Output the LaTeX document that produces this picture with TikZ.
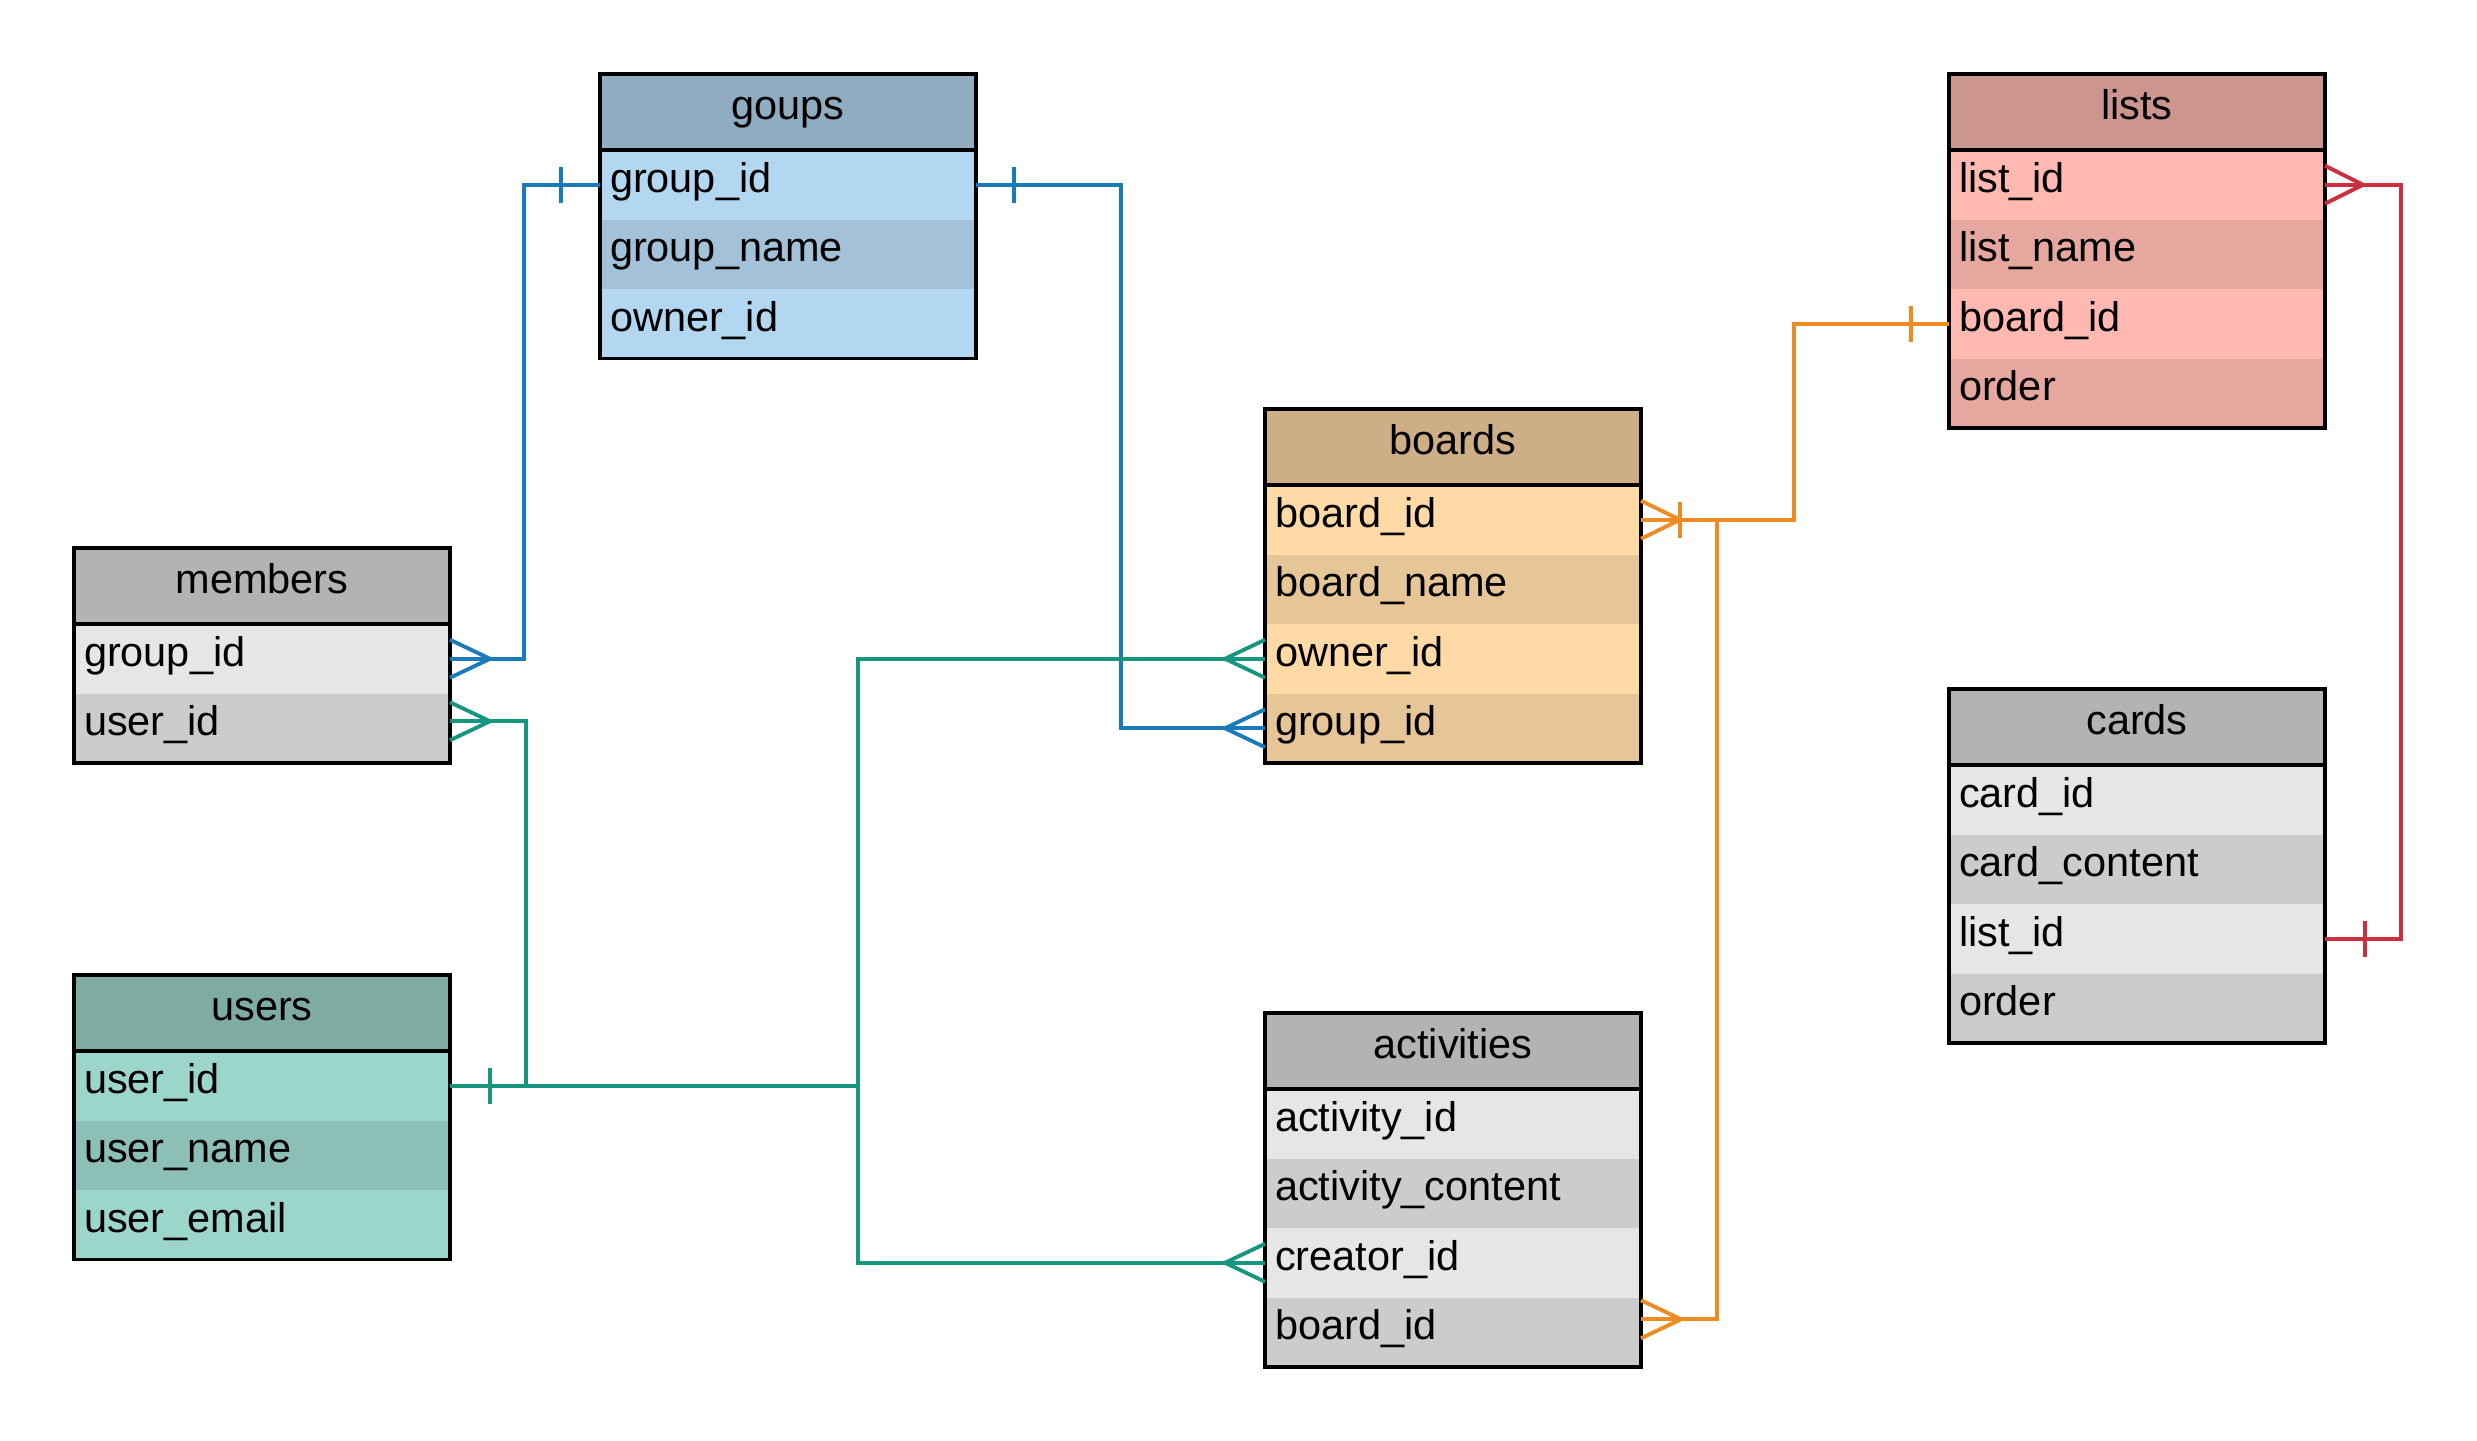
\documentclass[tikz,border=0pt]{standalone}
\usepackage{fontspec}
\setmainfont{Liberation Sans}
\usetikzlibrary{positioning}
\definecolor{greyhead}{HTML}{B3B3B3}
\definecolor{greylight}{HTML}{E6E6E6}
\definecolor{greydark}{HTML}{CCCCCC}
\definecolor{grouphead}{HTML}{8FACC0}
\definecolor{grouplight}{HTML}{B3D7F0}
\definecolor{groupdark}{HTML}{A3C2D9}
\definecolor{userhead}{HTML}{7EABA2}
\definecolor{userlight}{HTML}{9CD6CB}
\definecolor{userdark}{HTML}{8CBFB5}
\definecolor{boardhead}{HTML}{CDAE87}
\definecolor{boardlight}{HTML}{FFDAA7}
\definecolor{boarddark}{HTML}{E6C597}
\definecolor{listhead}{HTML}{CC958E}
\definecolor{listlight}{HTML}{FFB9B1}
\definecolor{listdark}{HTML}{E6A89E}
\definecolor{linkblue}{HTML}{1A7BBB}
\definecolor{linkteal}{HTML}{16967F}
\definecolor{linkorange}{HTML}{EE8B22}
\definecolor{linkred}{HTML}{CC2F3F}
\tikzset{%
    tabhead/.style={inner sep=0pt,outer sep=0pt,shape=rectangle,anchor=north west,minimum width=3.76cm,minimum height=0.76cm,text height=0.29cm,text depth=0.14cm,font=\fontsize{11.8}{14}\selectfont},
    tabrow/.style={inner xsep=0.1cm,inner ysep=0pt,outer sep=0pt,shape=rectangle,minimum width=3.76cm,minimum height=0.695cm,text width=3.56cm,align=left,text height=0.29cm,text depth=0.14cm,font=\fontsize{11.8}{14}\selectfont},
    tabframe/.style={draw,line width=1.05pt},
    link/.style={line width=1.1pt},
}

\begin{document}
\begin{tikzpicture}
        \useasboundingbox (0,0) rectangle (24.77,-14.40);

        % goups
        \node [tabhead,fill=grouphead] (goups) at (6.00,-0.74) {goups};
        \node [tabrow,fill=grouplight,below=0pt of goups] (goups-gid) {group\_id};
        \node [tabrow,fill=groupdark,below=0pt of goups-gid] (goups-gname) {group\_name};
        \node [tabrow,fill=grouplight,below=0pt of goups-gname] (goups-own) {owner\_id};
        \draw [tabframe] (goups.north west) rectangle (goups-own.south east);
        \draw [tabframe] (goups.south west) -- (goups.south east);

        % members
        \node [tabhead,fill=greyhead] (mem) at (0.74,-5.48) {members};
        \node [tabrow,fill=greylight,below=0pt of mem] (mem-gid) {group\_id};
        \node [tabrow,fill=greydark,below=0pt of mem-gid] (mem-uid) {user\_id};
        \draw [tabframe] (mem.north west) rectangle (mem-uid.south east);
        \draw [tabframe] (mem.south west) -- (mem.south east);

        % users
        \node [tabhead,fill=userhead] (usr) at (0.74,-9.75) {users};
        \node [tabrow,fill=userlight,below=0pt of usr] (usr-uid) {user\_id};
        \node [tabrow,fill=userdark,below=0pt of usr-uid] (usr-uname) {user\_name};
        \node [tabrow,fill=userlight,below=0pt of usr-uname] (usr-mail) {user\_email};
        \draw [tabframe] (usr.north west) rectangle (usr-mail.south east);
        \draw [tabframe] (usr.south west) -- (usr.south east);

        % boards
        \node [tabhead,fill=boardhead] (brd) at (12.65,-4.09) {boards};
        \node [tabrow,fill=boardlight,below=0pt of brd] (brd-bid) {board\_id};
        \node [tabrow,fill=boarddark,below=0pt of brd-bid] (brd-bname) {board\_name};
        \node [tabrow,fill=boardlight,below=0pt of brd-bname] (brd-own) {owner\_id};
        \node [tabrow,fill=boarddark,below=0pt of brd-own] (brd-gid) {group\_id};
        \draw [tabframe] (brd.north west) rectangle (brd-gid.south east);
        \draw [tabframe] (brd.south west) -- (brd.south east);

        % activities
        \node [tabhead,fill=greyhead] (act) at (12.65,-10.13) {activities};
        \node [tabrow,fill=greylight,below=0pt of act] (act-aid) {activity\_id};
        \node [tabrow,fill=greydark,below=0pt of act-aid] (act-cont) {activity\_content};
        \node [tabrow,fill=greylight,below=0pt of act-cont] (act-cre) {creator\_id};
        \node [tabrow,fill=greydark,below=0pt of act-cre] (act-bid) {board\_id};
        \draw [tabframe] (act.north west) rectangle (act-bid.south east);
        \draw [tabframe] (act.south west) -- (act.south east);

        % lists
        \node [tabhead,fill=listhead] (lst) at (19.49,-0.74) {lists};
        \node [tabrow,fill=listlight,below=0pt of lst] (lst-lid) {list\_id};
        \node [tabrow,fill=listdark,below=0pt of lst-lid] (lst-lname) {list\_name};
        \node [tabrow,fill=listlight,below=0pt of lst-lname] (lst-bid) {board\_id};
        \node [tabrow,fill=listdark,below=0pt of lst-bid] (lst-ord) {order};
        \draw [tabframe] (lst.north west) rectangle (lst-ord.south east);
        \draw [tabframe] (lst.south west) -- (lst.south east);

        % cards
        \node [tabhead,fill=greyhead] (crd) at (19.49,-6.89) {cards};
        \node [tabrow,fill=greylight,below=0pt of crd] (crd-cid) {card\_id};
        \node [tabrow,fill=greydark,below=0pt of crd-cid] (crd-cont) {card\_content};
        \node [tabrow,fill=greylight,below=0pt of crd-cont] (crd-lid) {list\_id};
        \node [tabrow,fill=greydark,below=0pt of crd-lid] (crd-ord) {order};
        \draw [tabframe] (crd.north west) rectangle (crd-ord.south east);
        \draw [tabframe] (crd.south west) -- (crd.south east);

        % blue links
        \draw [link,linkblue] (goups-gid.west) -- ++(-0.76,0) |- (mem-gid.east);
        \draw [link,linkblue] ([xshift=-0.39cm,yshift=0.18cm]goups-gid.west) -- ([xshift=-0.39cm,yshift=-0.18cm]goups-gid.west);
        \draw [link,linkblue] ([yshift=0.19cm]mem-gid.east) -- ([xshift=0.4cm]mem-gid.east) -- ([yshift=-0.19cm]mem-gid.east);

        \draw [link,linkblue] (goups-gid.east) -- ++(1.45,0) |- (brd-gid.west);
        \draw [link,linkblue] ([xshift=0.38cm,yshift=0.18cm]goups-gid.east) -- ([xshift=0.38cm,yshift=-0.18cm]goups-gid.east);
        \draw [link,linkblue] ([yshift=0.19cm]brd-gid.west) -- ([xshift=-0.4cm]brd-gid.west) -- ([yshift=-0.19cm]brd-gid.west);

        % teal links
        \coordinate (mem-uid-end) at ([yshift=0.07cm]mem-uid.east);
        \draw [link,linkteal] (usr-uid.east) -- ++(0.76,0) |- (mem-uid-end);
        \draw [link,linkteal] (usr-uid.east) -- ++(4.08,0) |- (brd-own.west);
        \draw [link,linkteal] (usr-uid.east) -- ++(4.08,0) |- (act-cre.west);
        \draw [link,linkteal] ([xshift=0.40cm,yshift=0.18cm]usr-uid.east) -- ([xshift=0.40cm,yshift=-0.18cm]usr-uid.east);
        \draw [link,linkteal] ([yshift=0.19cm]mem-uid-end) -- ([xshift=0.4cm]mem-uid-end) -- ([yshift=-0.19cm]mem-uid-end);
        \draw [link,linkteal] ([yshift=0.19cm]brd-own.west) -- ([xshift=-0.4cm]brd-own.west) -- ([yshift=-0.19cm]brd-own.west);
        \draw [link,linkteal] ([yshift=0.19cm]act-cre.west) -- ([xshift=-0.4cm]act-cre.west) -- ([yshift=-0.19cm]act-cre.west);

        % orange links
        \coordinate (act-bid-end) at ([yshift=0.13cm]act-bid.east);
        \draw [link,linkorange] (brd-bid.east) -- ++(1.53,0) |- (lst-bid.west);
        \draw [link,linkorange] ([xshift=-0.38cm,yshift=0.18cm]lst-bid.west) -- ([xshift=-0.38cm,yshift=-0.18cm]lst-bid.west);
        \draw [link,linkorange] (act-bid-end) -- ++(0.76,0) |- (brd-bid.east);
        \draw [link,linkorange] ([yshift=0.19cm]act-bid-end) -- ([xshift=0.4cm]act-bid-end) -- ([yshift=-0.19cm]act-bid-end);
        \draw [link,linkorange] ([yshift=0.19cm]brd-bid.east) -- ([xshift=0.39cm]brd-bid.east) -- ([yshift=-0.19cm]brd-bid.east);
        \draw [link,linkorange] ([xshift=0.39cm,yshift=0.18cm]brd-bid.east) -- ([xshift=0.39cm,yshift=-0.18cm]brd-bid.east);

        % red link
        \draw [link,linkred] (lst-lid.east) -- ++(0.76,0) |- (crd-lid.east);
        \draw [link,linkred] ([yshift=0.19cm]lst-lid.east) -- ([xshift=0.38cm]lst-lid.east) -- ([yshift=-0.19cm]lst-lid.east);
        \draw [link,linkred] ([xshift=0.40cm,yshift=0.18cm]crd-lid.east) -- ([xshift=0.40cm,yshift=-0.18cm]crd-lid.east);
      \end{tikzpicture}
\end{document}
